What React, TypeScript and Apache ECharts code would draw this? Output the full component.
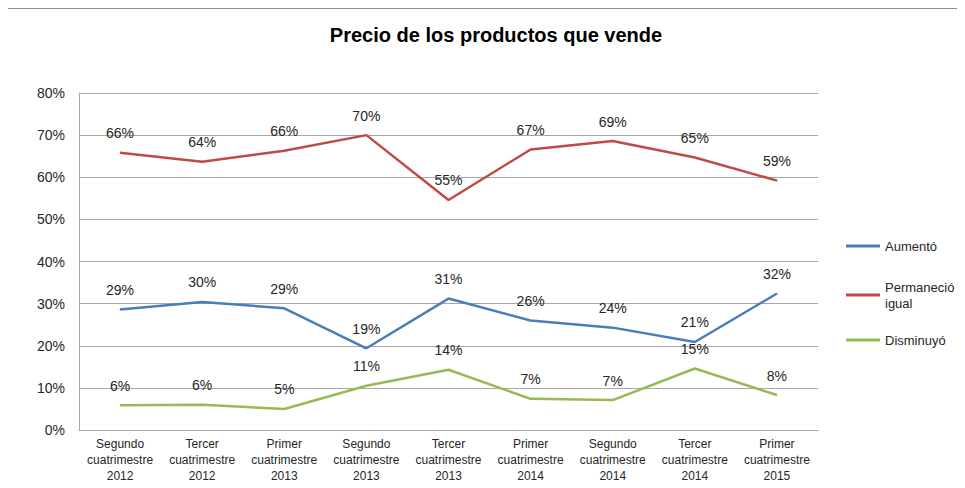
import React, { useEffect, useRef } from "react";
import * as echarts from "echarts";

const categories = [
  "Segundo\ncuatrimestre\n2012",
  "Tercer\ncuatrimestre\n2012",
  "Primer\ncuatrimestre\n2013",
  "Segundo\ncuatrimestre\n2013",
  "Tercer\ncuatrimestre\n2013",
  "Primer\ncuatrimestre\n2014",
  "Segundo\ncuatrimestre\n2014",
  "Tercer\ncuatrimestre\n2014",
  "Primer\ncuatrimestre\n2015",
];
const aumento = [28.6, 30.4, 28.9, 19.4, 31.2, 26.0, 24.3, 20.9, 32.4];
const permanecio = [65.8, 63.7, 66.3, 70.0, 54.6, 66.6, 68.6, 64.7, 59.2];
const disminuyo = [5.9, 6.0, 5.0, 10.5, 14.3, 7.4, 7.1, 14.6, 8.3];
const seriesNames = ["Aumentó", "Permaneció igual", "Disminuyó"];
const colors = ["#4A7EBB", "#BE4B48", "#98B954"];
const yTicks = [0, 10, 20, 30, 40, 50, 60, 70, 80];

const FONT = "Liberation Sans, Arial, sans-serif";

export default function App() {
  const ref = useRef<HTMLDivElement>(null);
  useEffect(() => {
    if (!ref.current) return;
    const chart = echarts.init(ref.current, null, { renderer: "svg" });
    const mkSeries = (name: string, data: number[], color: string) => ({
      name,
      type: "line",
      data,
      symbol: "circle",
      symbolSize: 1,
      showSymbol: true,
      lineStyle: { color, width: 2.5 },
      itemStyle: { color },
      label: {
        show: true,
        position: "top",
        distance: 12,
        color: "#262626",
        fontSize: 14,
        fontFamily: FONT,
        formatter: (p: any) => Math.round(p.value) + "%",
      },
    });
    const legendBase = {
      orient: "vertical",
      left: 841,
      itemWidth: 34,
      itemHeight: 3,
      icon: "rect",
      itemGap: 0,
      textStyle: { fontSize: 13, fontFamily: FONT, color: "#262626", lineHeight: 16 },
    };
    chart.setOption({
      animation: false,
      backgroundColor: "transparent",
      title: {
        text: "Precio de los productos que vende",
        left: 491,
        textAlign: "center",
        top: 20,
        textStyle: { fontSize: 20, fontWeight: "bold", fontFamily: FONT, color: "#000" },
      },
      legend: [
        { ...legendBase, top: 233, data: [seriesNames[0]] },
        {
          ...legendBase,
          top: 266,
          data: [seriesNames[1]],
          formatter: () => "Permaneció\nigual",
          textStyle: { ...legendBase.textStyle, padding: [16, 0, 0, 0] },
        },
        { ...legendBase, top: 327, data: [seriesNames[2]] },
      ],
      grid: { left: 79, right: 147, top: 93, bottom: 58, containLabel: false },
      xAxis: {
        type: "category",
        data: categories,
        boundaryGap: true,
        axisLine: { lineStyle: { color: "#A6A6A6", width: 1 } },
        axisTick: { show: false },
        axisLabel: {
          fontSize: 12,
          fontFamily: FONT,
          color: "#262626",
          lineHeight: 16,
          margin: 6,
          interval: 0,
        },
      },
      yAxis: {
        type: "value",
        min: yTicks[0],
        max: yTicks[yTicks.length - 1],
        interval: 10,
        axisLine: { show: true, lineStyle: { color: "#A6A6A6" } },
        axisTick: { show: false },
        splitLine: { lineStyle: { color: "#A6A6A6" } },
        axisLabel: {
          formatter: "{value}%",
          fontSize: 14,
          fontFamily: FONT,
          color: "#262626",
          margin: 14,
        },
      },
      series: [
        mkSeries(seriesNames[0], aumento, colors[0]),
        mkSeries(seriesNames[1], permanecio, colors[1]),
        mkSeries(seriesNames[2], disminuyo, colors[2]),
      ],
    });
    return () => chart.dispose();
  }, []);
  return (
    <div
      style={{
        position: "relative",
        width: 965,
        height: 488,
        margin: -8,
        overflow: "hidden",
        background: "#ffffff",
      }}
    >
      <div
        style={{
          position: "absolute",
          left: 4,
          top: 7,
          width: 980,
          height: 500,
          boxSizing: "border-box",
          borderLeft: "2px solid #7f7f7f",
          borderTop: "2px solid #8c8c8c",
        }}
      />
      <div ref={ref} style={{ position: "absolute", left: 0, top: 0, width: 965, height: 488 }} />
    </div>
  );
}
